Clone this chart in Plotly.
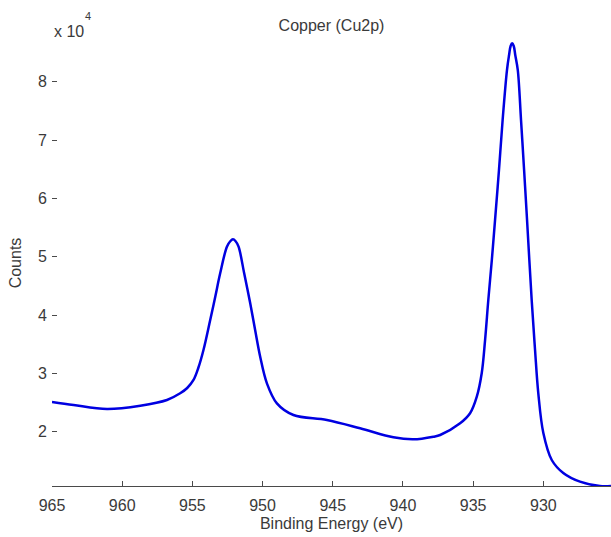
import plotly.graph_objects as go

# Cu2p XPS spectrum
energy_ev = [965.0, 963.46, 961.08, 958.71, 956.81, 955.87, 955.37, 954.92, 954.58,
             954.21, 953.73, 953.37, 953.02, 952.54, 952.30, 952.11, 951.92, 951.71,
             951.31, 950.88, 950.53, 950.17, 949.69, 948.98, 947.80, 945.42,
             943.05, 940.68, 939.26, 937.83, 937.35, 935.93, 935.22, 934.74, 934.39,
             934.15, 933.92, 933.67, 933.44, 933.16, 932.90, 932.59, 932.44, 932.33,
             932.22, 932.11, 932.00, 931.82, 931.59, 931.37, 931.16, 930.83, 930.59,
             930.36, 930.00, 929.40, 928.58, 927.39, 925.97, 925.18]
counts = [25100, 24560, 23880, 24440, 25420, 26570, 27480, 28860, 30910,
          34000, 39140, 43140, 47150, 51720, 52650, 52980, 52650, 51720,
          47150, 42000, 37430, 32850, 28280, 24850, 22850, 21990,
          20570, 19020, 18680, 19130, 19420, 21420, 23140, 25990, 30000,
          35710, 42570, 49430, 56290, 64870, 73450, 82020, 84600, 86150,
          86600, 86150, 84600, 82020, 73450, 64870, 56290, 42570, 34000,
          26620, 19760, 15130, 12900, 11410, 10670, 10670]

x_tick_vals = [965, 960, 955, 950, 945, 940, 935, 930]
x_tick_text = ["965", "960", "955", "950", "945", "940", "935", "930"]
y_tick_vals = [20000, 30000, 40000, 50000, 60000, 70000, 80000]
y_tick_text = ["2", "3", "4", "5", "6", "7", "8"]
x_range = [965, 925.18]
y_range = [10670, 87170]

title_text = "Copper (Cu2p)"
x_label = "Binding Energy (eV)"
y_label = "Counts"
exp_base = "x 10"
exp_power = "4"

FONT = "Liberation Sans, Arial, sans-serif"
TXT = "#3a3a3a"
AX = "#4a4a4a"
FS = 16

fig = go.Figure(go.Scatter(
    x=energy_ev, y=counts, mode="lines",
    line=dict(color="rgb(0,0,225)", width=2.5, shape="spline", smoothing=1.0),
    hoverinfo="skip",
))

fig.update_layout(
    width=611, height=537,
    margin=dict(l=52, r=0, t=40, b=51),
    plot_bgcolor="white", paper_bgcolor="white",
    showlegend=False,
    font=dict(family=FONT, size=FS, color=TXT),
    title=dict(text=title_text, x=0.5, xref="paper", xanchor="center",
               y=1 - 25 / 537, yref="container", yanchor="middle",
               font=dict(family=FONT, size=FS, color=TXT)),
)

fig.update_xaxes(
    range=x_range, tickmode="array", tickvals=x_tick_vals, ticktext=x_tick_text,
    ticks="inside", ticklen=5, tickwidth=1, tickcolor=AX,
    showline=True, linecolor=AX, linewidth=1,
    showgrid=False, zeroline=False, automargin=False,
    ticklabelstandoff=5,
    tickfont=dict(family=FONT, size=FS, color=TXT),
    title=dict(text=x_label, standoff=4, font=dict(family=FONT, size=FS, color=TXT)),
)

fig.update_yaxes(
    range=y_range, tickmode="array", tickvals=y_tick_vals, ticktext=y_tick_text,
    ticks="inside", ticklen=5, tickwidth=1, tickcolor=AX,
    showline=False, showgrid=False, zeroline=False, automargin=False,
    ticklabelstandoff=4,
    tickfont=dict(family=FONT, size=FS, color=TXT),
    title=dict(text=y_label, standoff=12, font=dict(family=FONT, size=FS, color=TXT)),
)

fig.add_annotation(text=exp_base, xref="paper", yref="paper",
                   x=0, y=(486 - 31) / 446, xanchor="left", yanchor="middle",
                   showarrow=False, font=dict(family=FONT, size=FS, color=TXT))
fig.add_annotation(text=exp_power, xref="paper", yref="paper",
                   x=(88 - 52) / 559, y=(486 - 16) / 446, xanchor="center", yanchor="middle",
                   showarrow=False, font=dict(family=FONT, size=11, color=TXT))

fig.write_html("out.html")
